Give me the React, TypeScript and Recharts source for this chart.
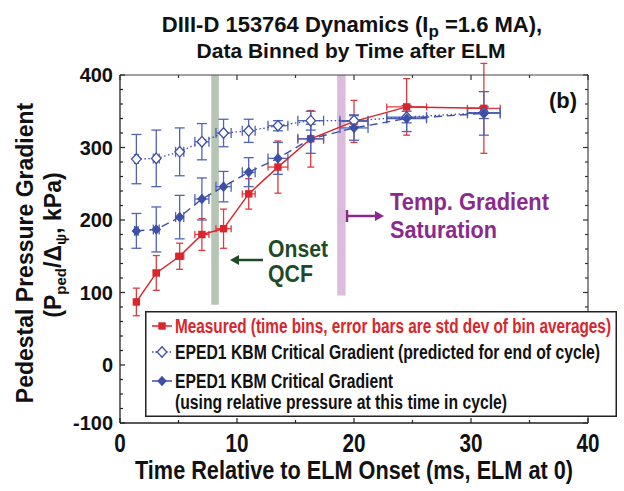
import { ComposedChart, ErrorBar, Legend, ReferenceArea, Scatter, XAxis, YAxis } from "recharts";

// time bins after the ELM (ms) and their widths
const times = [1.4, 3.1, 5.1, 7.0, 8.85, 11.0, 13.5, 16.3, 20.0, 24.5, 31.1];
const timeErr = [0.15, 0.25, 0.35, 0.6, 0.65, 0.55, 0.85, 1.1, 1.2, 1.7, 1.4];

// pedestal pressure gradient, kPa
const measured = [87, 127, 150, 180, 188, 236, 273, 312, 336, 356, 354];
const measuredErr = [19, 24, 18, 22, 27, 21, 36, 39, 29, 39, 62];
const epedEnd = [284, 285, 294, 308, 320, 323, 330, 337, 337, 342, 348];
const epedEndErr = [34, 39, 33, 25, 19, 16, 7, 13, 8, 8, 8];
const epedNow = [185, 187, 204, 229, 246, 266, 285, 312, 327, 340, 347];
const epedNowErr = [24, 31, 30, 29, 21, 20, 22, 20, 17, 18, 30];

const xTicks = [0, 5, 10, 15, 20, 25, 30, 35, 40];
const yTicks = [-80, -60, -40, -20, 0, 20, 40, 60, 80, 100, 120, 140, 160, 180, 200, 220, 240, 260, 280, 300, 320, 340, 360, 380, 400];
const yMajor = [-80, 0, 100, 200, 300, 400];
const yLabels = ["-100", "0", "100", "200", "300", "400"];

const qcfBand = { x1: 7.8, x2: 8.45, y1: 83, y2: 400 };
const tempBand = { x1: 18.56, x2: 19.28, y1: 96, y2: 400 };

const RED = "#d8262c";
const RED_ERR = "#e03a3e";
const BLUE = "#3e4fa6";
const BLUE_ERR = "#5064b5";
const SANS = "'Liberation Sans', Arial, sans-serif";
// no condensed face installed, so narrow texts get squeezed with textLength
const squeeze = (w: number) => ({ textLength: w, lengthAdjust: "spacingAndGlyphs" as const });

const rows = (vals: number[], errs: number[]) =>
  times.map((t, i) => ({ t, v: vals[i], ey: errs[i], ex: timeErr[i] }));

const measuredRows = rows(measured, measuredErr);
const epedEndRows = rows(epedEnd, epedEndErr);
const epedNowRows = rows(epedNow, epedNowErr);

const RedSquare = ({ cx, cy }: any) => (
  <rect x={cx - 3.7} y={cy - 3.7} width={7.4} height={7.4} fill={RED} />
);
const diamond = (cx: number, cy: number) =>
  `M${cx},${cy - 5.3}L${cx + 4.8},${cy}L${cx},${cy + 5.3}L${cx - 4.8},${cy}Z`;
const OpenDiamond = ({ cx, cy }: any) => (
  <path d={diamond(cx, cy)} fill="#fff" stroke={BLUE} strokeWidth={1.3} />
);
const FilledDiamond = ({ cx, cy }: any) => <path d={diamond(cx, cy)} fill={BLUE} />;

function BottomTick({ x, y, payload }: any) {
  const major = payload.value % 10 === 0;
  return (
    <g>
      <line x1={x} y1={y} x2={x} y2={y - (major ? 5 : 3)} stroke="#222" strokeWidth={1.2} />
      {major && (
        <text
          x={x}
          y={y + 29}
          textAnchor="middle"
          fontFamily={SANS}
          fontWeight={700}
          fontSize={25}
          fill="#111"
          {...squeeze(payload.value === 0 ? 11.5 : 23)}
        >
          {payload.value}
        </text>
      )}
    </g>
  );
}

function TopTick({ x, y, payload }: any) {
  const major = payload.value % 10 === 0;
  return <line x1={x} y1={y} x2={x} y2={y + (major ? 5 : 3)} stroke="#333" strokeWidth={1.2} />;
}

function LeftTick({ x, y, payload }: any) {
  const idx = yMajor.indexOf(payload.value);
  const major = idx >= 0;
  return (
    <g>
      <line x1={x} y1={y} x2={x + (major ? 5 : 3)} y2={y} stroke="#222" strokeWidth={1.2} />
      {major && (
        <text x={x - 7} y={y + 7} textAnchor="end" fontFamily={SANS} fontWeight={700} fontSize={20} fill="#111">
          {yLabels[idx]}
        </text>
      )}
    </g>
  );
}

function RightTick({ x, y, payload }: any) {
  const major = yMajor.includes(payload.value);
  return <line x1={x} y1={y} x2={x - (major ? 5 : 3)} y2={y} stroke="#333" strokeWidth={1.2} />;
}

function LegendBox() {
  const text = { fontFamily: SANS, fontWeight: 700, fontSize: 20 };
  return (
    <svg width={472} height={106} style={{ display: "block" }}>
      <rect x={0.75} y={0.75} width={470.5} height={104.5} fill="#fff" stroke="#222" strokeWidth={1.5} />
      <line x1={7} x2={27} y1={15} y2={15} stroke={RED} strokeWidth={1.5} />
      <RedSquare cx={17} cy={15} />
      <text x={30} y={21.5} fill={RED} {...text} {...squeeze(436)}>
        Measured (time bins, error bars are std dev of bin averages)
      </text>
      <line x1={7} x2={27} y1={41} y2={41} stroke={BLUE} strokeWidth={1.3} strokeDasharray="1.5 2" />
      <OpenDiamond cx={17} cy={41} />
      <text x={30} y={48} fill="#111" {...text} {...squeeze(425)}>
        EPED1 KBM Critical Gradient (predicted for end of cycle)
      </text>
      <line x1={7} x2={27} y1={70} y2={70} stroke={BLUE} strokeWidth={1.5} />
      <FilledDiamond cx={17} cy={70} />
      <text x={30} y={77} fill="#111" {...text} {...squeeze(218)}>
        EPED1 KBM Critical Gradient
      </text>
      <text x={30} y={97.5} fill="#111" {...text} {...squeeze(332)}>
        (using relative pressure at this time in cycle)
      </text>
    </svg>
  );
}

function Overlay() {
  const bold = { fontWeight: 700, fill: "#111" };
  return (
    <svg width={624} height={491} style={{ position: "absolute", left: 0, top: 0, pointerEvents: "none" }}>
      <text x={352} y={31.5} textAnchor="middle" fontFamily={SANS} fontSize={22} {...bold}>
        DIII-D 153764 Dynamics (I<tspan fontSize={17} dy={5}>p</tspan>
        <tspan dy={-5}> =1.6 MA),</tspan>
      </text>
      <text x={351} y={58.3} textAnchor="middle" fontFamily={SANS} fontSize={21} {...bold}>
        Data Binned by Time after ELM
      </text>
      <text x={135} y={479} fontFamily={SANS} fontSize={25} {...bold} {...squeeze(438)}>
        Time Relative to ELM Onset (ms, ELM at 0)
      </text>
      <text transform="translate(33,253) rotate(-90)" textAnchor="middle" fontFamily={SANS} fontSize={23} {...bold}>
        Pedestal Pressure Gradient
      </text>
      <text transform="translate(61,245) rotate(-90)" textAnchor="middle" fontFamily={SANS} fontSize={23} {...bold}>
        (P<tspan fontSize={15} dy={5}>ped</tspan>
        <tspan dy={-5}>/Δ</tspan>
        <tspan fontSize={15} dy={5}>ψ</tspan>
        <tspan dy={-5}>, kPa)</tspan>
      </text>
      <text x={549} y={108} fontFamily={SANS} fontSize={22} {...bold} {...squeeze(28)}>
        (b)
      </text>
      <g fontFamily={SANS} fontSize={24} fontWeight={700} fill="#1e4a27">
        <text x={268} y={257} {...squeeze(60)}>Onset</text>
        <text x={268} y={282} {...squeeze(45)}>QCF</text>
      </g>
      <line x1={263} x2={236} y1={260} y2={260} stroke="#1e4a27" strokeWidth={2.5} />
      <path d="M230,260 L239,255 L239,265 Z" fill="#1e4a27" />
      <g fontFamily={SANS} fontSize={24} fontWeight={700} fill="#8b2a8d">
        <text x={390} y={210} {...squeeze(159)}>Temp. Gradient</text>
        <text x={390} y={238} {...squeeze(107)}>Saturation</text>
      </g>
      <line x1={347} x2={376} y1={216} y2={216} stroke="#8b2a8d" strokeWidth={2.5} />
      <line x1={347} x2={347} y1={210} y2={222} stroke="#8b2a8d" strokeWidth={2.5} />
      <path d="M384,216 L375,211 L375,221 Z" fill="#8b2a8d" />
    </svg>
  );
}

export default function App() {
  return (
    <div style={{ position: "absolute", left: 0, top: 0, width: 624, height: 491, background: "#fff" }}>
      <ComposedChart width={624} height={491} margin={{ top: 74, right: 35, bottom: 67, left: 119 }}>
        <XAxis
          type="number"
          dataKey="t"
          domain={[0, 40]}
          ticks={xTicks}
          interval={0}
          height={1}
          tickSize={0}
          tickMargin={0}
          tick={<BottomTick />}
          axisLine={{ stroke: "#222", strokeWidth: 1.3 }}
          allowDataOverflow
        />
        <XAxis
          xAxisId="top"
          orientation="top"
          type="number"
          dataKey="t"
          domain={[0, 40]}
          ticks={xTicks}
          interval={0}
          height={1}
          tickSize={0}
          tickMargin={0}
          tick={<TopTick />}
          axisLine={{ stroke: "#444", strokeWidth: 1.2 }}
          allowDataOverflow
        />
        <YAxis
          type="number"
          domain={[-80, 400]}
          ticks={yTicks}
          interval={0}
          width={1}
          tickSize={0}
          tickMargin={0}
          tick={<LeftTick />}
          axisLine={{ stroke: "#222", strokeWidth: 1.3 }}
          allowDataOverflow
        />
        <YAxis
          yAxisId="right"
          orientation="right"
          type="number"
          domain={[-80, 400]}
          ticks={yTicks}
          interval={0}
          width={1}
          tickSize={0}
          tickMargin={0}
          tick={<RightTick />}
          axisLine={{ stroke: "#444", strokeWidth: 1.2 }}
          allowDataOverflow
        />
        <ReferenceArea {...qcfBand} fill="#b7c5b4" fillOpacity={1} stroke="none" />
        <ReferenceArea {...tempBand} fill="#dcbcdc" fillOpacity={1} stroke="none" />
        <Scatter
          name="Measured"
          data={measuredRows}
          dataKey="v"
          fill={RED}
          line={{ stroke: RED, strokeWidth: 1.5 }}
          shape={<RedSquare />}
          isAnimationActive={false}
        >
          <ErrorBar dataKey="ey" direction="y" width={3.5} stroke={RED_ERR} strokeWidth={1.3} />
          <ErrorBar dataKey="ex" direction="x" width={3.5} stroke={RED_ERR} strokeWidth={1.3} />
        </Scatter>
        <Scatter
          name="EPED1 end of cycle"
          data={epedEndRows}
          dataKey="v"
          fill={BLUE}
          line={{ stroke: BLUE, strokeWidth: 1.3, strokeDasharray: "1.5 2.5" }}
          shape={<OpenDiamond />}
          isAnimationActive={false}
        >
          <ErrorBar dataKey="ey" direction="y" width={5} stroke={BLUE_ERR} strokeWidth={1.3} />
          <ErrorBar dataKey="ex" direction="x" width={5} stroke={BLUE_ERR} strokeWidth={1.3} />
        </Scatter>
        <Scatter
          name="EPED1 this time"
          data={epedNowRows}
          dataKey="v"
          fill={BLUE}
          line={{ stroke: BLUE, strokeWidth: 1.4, strokeDasharray: "8 5" }}
          shape={<FilledDiamond />}
          isAnimationActive={false}
        >
          <ErrorBar dataKey="ey" direction="y" width={5} stroke={BLUE_ERR} strokeWidth={1.3} />
          <ErrorBar dataKey="ex" direction="x" width={5} stroke={BLUE_ERR} strokeWidth={1.3} />
        </Scatter>
        <Legend
          layout="horizontal"
          verticalAlign="middle"
          align="center"
          content={<LegendBox />}
          wrapperStyle={{ left: 145, top: 311, width: 472, height: 106 }}
        />
      </ComposedChart>
      <Overlay />
    </div>
  );
}
